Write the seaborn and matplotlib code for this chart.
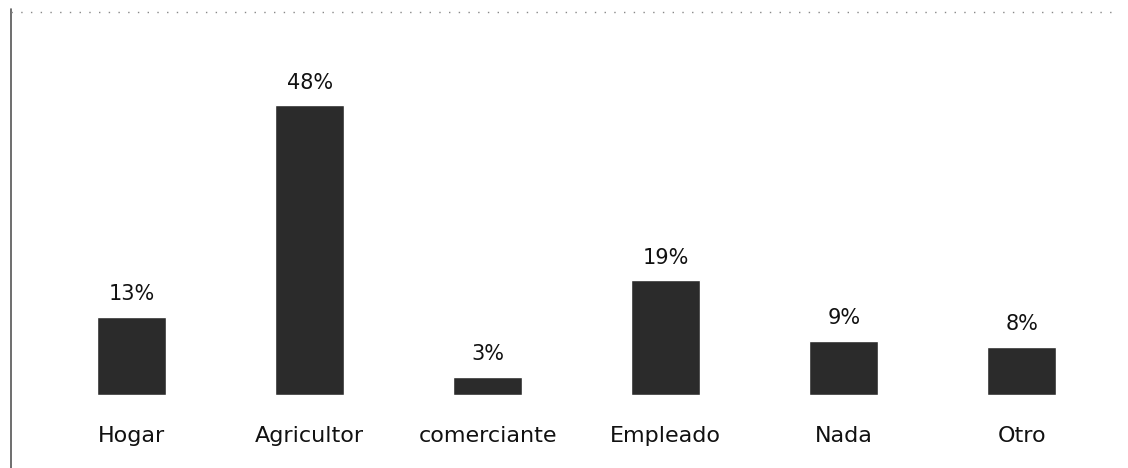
import matplotlib
matplotlib.use("Agg")
import matplotlib.pyplot as plt
import seaborn as sns
import pandas as pd
from matplotlib.lines import Line2D

# datos
categorias = ["Hogar", "Agricultor", "comerciante", "Empleado", "Nada", "Otro"]
porcentajes = [13, 48, 3, 19, 9, 8]
etiquetas = ["13%", "48%", "3%", "19%", "9%", "8%"]

df = pd.DataFrame({"ocupacion": categorias, "pct": porcentajes})

sns.set_style("white")
plt.rcParams["font.family"] = ["DejaVu Sans"]

fig = plt.figure(figsize=(11.28, 4.68), dpi=100)
ax = fig.add_axes([0.0377, 0.156, 0.947, 0.7585])

sns.barplot(data=df, x="ocupacion", y="pct", color="#2b2b2b", width=0.39,
            saturation=1, ax=ax)

ax.bar_label(ax.containers[0], labels=etiquetas, padding=9, fontsize=15,
             color="#111111")

ax.set_ylim(0, 58.8)
ax.set_xlabel("")
ax.set_ylabel("")
ax.set_yticks([])
ax.tick_params(axis="x", length=0, pad=22, labelsize=16, colors="#111111")
for s in ax.spines.values():
    s.set_visible(False)

# marco escaneado: línea izquierda y línea punteada superior
fig.add_artist(Line2D([0.0098, 0.0098], [0.0, 0.98], color="#555555", lw=1.2))
fig.add_artist(Line2D([0.01, 0.99], [0.974, 0.974], color="#888888", lw=1,
                      linestyle=(0, (1, 6))))

fig.savefig("out.png", dpi=100)
